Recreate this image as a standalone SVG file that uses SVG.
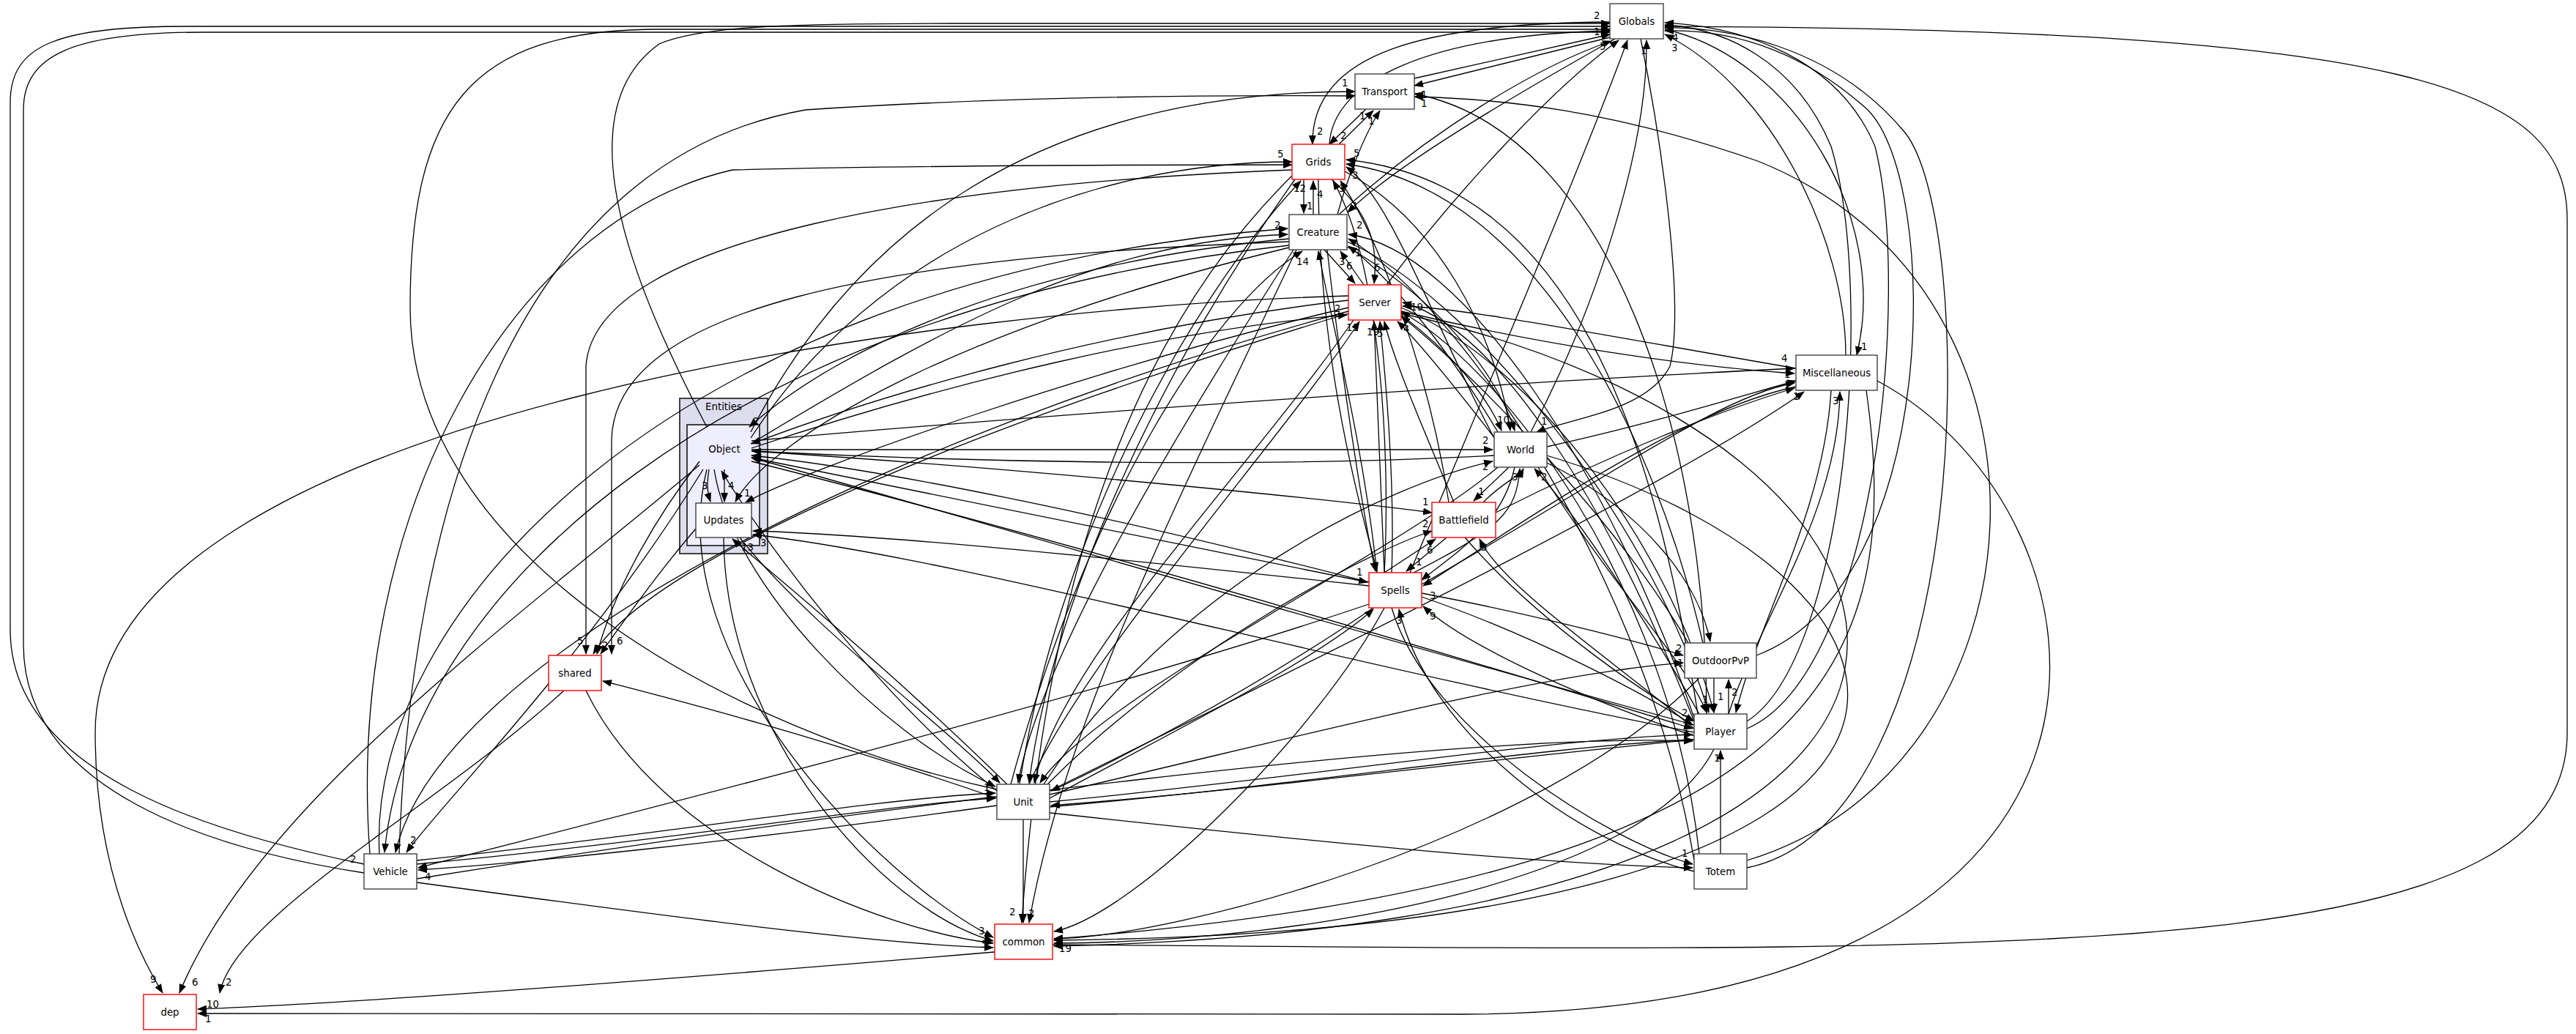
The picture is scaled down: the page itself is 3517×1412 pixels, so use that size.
<svg xmlns="http://www.w3.org/2000/svg" width="3517" height="1412" viewBox="0 0 3517 1412">
<defs>
<marker id="ah" markerWidth="13" markerHeight="10" refX="12" refY="5" orient="auto" markerUnits="userSpaceOnUse"><path d="M0,0 L13,5 L0,10 z" fill="#000"/></marker>
<style>
.nd rect{fill:#fff;stroke:#404040;stroke-width:1.4}
.rd rect{fill:#fff;stroke:#ff0000;stroke-width:1.4}
text{font-family:"DejaVu Sans","Liberation Sans",sans-serif;font-size:13.3px;fill:#000}
.c{text-anchor:middle}
#edges path{fill:none;stroke:#000;stroke-width:1.3;marker-end:url(#ah)}
</style>
</defs>
<rect width="3517" height="1412" fill="#fff"/>
<g id="cluster-Entities">
<rect x="928" y="544" width="120" height="212" fill="#ddddee" stroke="#404040" stroke-width="2"/>
<text class="c" x="988" y="560">Entities</text>
<rect x="938" y="580" width="99" height="165" fill="#eeeeff" stroke="#404040" stroke-width="2"/>
</g>
<g id="edges">
<path d="M497,1180 C300,1140 14,1060 14,860 L14,140 C14,60 80,36 260,36 L2198,36"/>
<path d="M497,1192 C290,1160 32,1080 32,880 L32,150 C32,75 100,44 280,44 L2198,44"/>
<path d="M1361,1078 C1000,1000 560,760 560,420 C560,150 640,40 900,40 L2198,40"/>
<path d="M965,583 C880,420 760,160 900,60 C960,34 1100,32 1300,32 L2198,32"/>
<path d="M1828,293 C1950,180 2100,90 2200,56"/>
<path d="M1893,389 C1990,260 2120,120 2210,55"/>
<path d="M1925,782 C2000,600 2150,250 2222,55"/>
<path d="M1931,107 L2198,47"/>
<path d="M1815,197 C1820,110 1950,48 2198,42"/>
<path d="M2090,590 C2180,420 2250,200 2248,55"/>
<path d="M2520,485 C2520,330 2420,120 2273,47"/>
<path d="M2385,985 C2520,900 2560,400 2500,200 C2450,80 2350,38 2273,34"/>
<path d="M2385,995 C2560,920 2610,400 2560,200 C2510,80 2380,36 2273,31"/>
<path d="M2385,1185 C2700,1120 2700,300 2600,180 C2500,60 2350,36 2273,38"/>
<path d="M1437,1290 C2800,1300 3505,1320 3505,1000 L3505,300 C3505,120 3300,40 2273,36"/>
<path d="M2398,895 C2650,800 2650,250 2550,150 C2450,60 2350,40 2273,42"/>
<path d="M2240,53 C2270,200 2300,420 2280,500 C2250,560 2150,570 2098,590"/>
<path d="M2198,51 L1931,117"/>
<path d="M2198,30 C1950,32 1790,70 1792,197"/>
<path d="M2205,53 C2050,140 1900,230 1840,290"/>
<path d="M2273,40 C2450,80 2580,300 2535,485"/>
<path d="M1865,149 L1815,197"/>
<path d="M1828,197 L1875,151"/>
<path d="M1826,293 C1840,240 1865,180 1884,151"/>
<path d="M1025,590 C1200,250 1500,125 1850,125"/>
<path d="M545,1166 C560,700 700,220 1100,150 C1400,130 1700,130 1850,131"/>
<path d="M2330,975 C2330,600 2200,180 1931,128"/>
<path d="M2385,1175 C2800,1050 2850,400 2400,220 C2200,150 2050,135 1931,132"/>
<path d="M1793,293 L1793,247"/>
<path d="M1780,245 L1780,291"/>
<path d="M1025,598 C1200,330 1500,221 1764,221"/>
<path d="M1392,1071 C1450,700 1650,380 1776,247"/>
<path d="M1768,245 C1600,480 1440,800 1405,1069"/>
<path d="M505,1166 C470,700 700,300 1000,232 C1300,225 1600,225 1764,225"/>
<path d="M1764,232 C1300,250 812,320 800,500 L800,893"/>
<path d="M2040,598 C1960,450 1900,270 1838,228"/>
<path d="M1836,234 C1960,300 2040,450 2062,588"/>
<path d="M2318,975 C2260,600 2150,250 1838,218"/>
<path d="M1978,686 C1950,500 1880,320 1830,247"/>
<path d="M2325,878 C2260,600 2100,260 1838,224"/>
<path d="M1764,240 C1500,500 1420,900 1395,1260"/>
<path d="M1800,245 C1800,500 1860,700 1880,780"/>
<path d="M1890,782 C1900,600 1880,350 1820,247"/>
<path d="M1808,341 L1850,387"/>
<path d="M1862,389 L1830,343"/>
<path d="M1818,245 C1880,300 1880,350 1876,387"/>
<path d="M1025,606 C1300,440 1500,330 1758,320"/>
<path d="M1760,326 C1400,360 1150,470 1023,583"/>
<path d="M518,1166 C500,850 900,380 1758,312"/>
<path d="M1760,335 C1000,420 560,800 525,1164"/>
<path d="M1380,1071 C1480,700 1650,420 1778,343"/>
<path d="M1766,341 C1600,600 1420,900 1390,1069"/>
<path d="M2313,980 C2200,650 2000,340 1841,320"/>
<path d="M1839,330 C2000,400 2250,700 2333,973"/>
<path d="M2045,590 C1980,480 1900,380 1841,336"/>
<path d="M1839,337 C1950,400 2040,500 2068,588"/>
<path d="M1880,782 C1860,600 1820,450 1800,343"/>
<path d="M1812,341 C1830,500 1860,700 1878,780"/>
<path d="M2313,1175 C2250,800 2000,420 1841,326"/>
<path d="M1770,341 C1600,700 1450,1000 1405,1260"/>
<path d="M1760,338 C1300,450 1050,600 1004,685"/>
<path d="M1760,330 C1200,350 840,420 835,600 L835,893"/>
<path d="M1841,404 C1300,420 130,560 130,1000 C130,1200 200,1320 222,1356"/>
<path d="M1841,410 C1500,450 1200,540 1026,606"/>
<path d="M1026,612 C1300,520 1600,450 1839,430"/>
<path d="M1841,420 C1500,500 1100,640 1018,686"/>
<path d="M1841,428 C1400,560 900,750 810,893"/>
<path d="M1405,1071 C1480,900 1750,600 1856,439"/>
<path d="M1848,437 C1700,650 1450,900 1412,1069"/>
<path d="M1890,782 L1876,439"/>
<path d="M1900,782 C1905,650 1890,500 1884,439"/>
<path d="M2042,600 C1980,520 1930,460 1908,439"/>
<path d="M1913,430 C1980,480 2030,540 2050,588"/>
<path d="M2313,985 C2200,700 2050,450 1915,413"/>
<path d="M1913,420 C2100,500 2280,750 2340,973"/>
<path d="M2452,503 C2200,460 2000,420 1915,418"/>
<path d="M1913,425 C2100,470 2300,500 2450,510"/>
<path d="M1985,686 C1950,600 1905,500 1890,439"/>
<path d="M2305,878 C2200,700 2000,500 1913,432"/>
<path d="M2320,1166 C2280,800 2050,500 1913,426"/>
<path d="M1913,428 C2700,600 2900,1260 1439,1292"/>
<path d="M1841,425 C1200,600 600,900 540,1164"/>
<path d="M1026,614 L2038,614"/>
<path d="M2040,622 C1700,640 1300,630 1027,616"/>
<path d="M1425,1071 C1600,800 1900,660 2038,630"/>
<path d="M2045,638 C1900,760 1500,950 1420,1069"/>
<path d="M2060,638 L2012,684"/>
<path d="M2025,686 C2050,660 2075,650 2080,640"/>
<path d="M1930,782 C2050,720 2070,700 2075,640"/>
<path d="M2068,638 C2050,720 1980,760 1941,792"/>
<path d="M2100,638 C2200,800 2300,900 2330,973"/>
<path d="M2320,975 C2250,850 2150,700 2095,640"/>
<path d="M2112,632 C2250,700 2320,800 2335,876"/>
<path d="M2112,622 C2700,800 2800,1270 1439,1284"/>
<path d="M2112,610 C2250,580 2380,540 2452,520"/>
<path d="M1026,602 C1500,560 2100,520 2450,503"/>
<path d="M1941,798 C2200,650 2350,540 2450,523"/>
<path d="M2452,528 C2300,560 2100,700 1943,800"/>
<path d="M2360,975 C2400,850 2510,700 2512,535"/>
<path d="M2500,533 C2490,700 2400,850 2370,973"/>
<path d="M1433,1080 C1900,850 2300,650 2463,535"/>
<path d="M2548,533 C2600,900 2500,1200 1439,1282"/>
<path d="M2563,520 C2900,700 3000,1380 2000,1385 L270,1384"/>
<path d="M2042,700 C2200,620 2350,560 2450,530"/>
<path d="M1890,782 L1960,736"/>
<path d="M1975,734 L1920,780"/>
<path d="M1430,1071 C1600,900 1850,760 1955,725"/>
<path d="M1026,616 C1400,640 1800,680 1955,700"/>
<path d="M2000,734 C2100,850 2250,950 2313,985"/>
<path d="M2313,995 C2200,900 2050,800 2020,736"/>
<path d="M1941,815 C2100,870 2250,950 2311,990"/>
<path d="M2313,1005 C2150,950 2000,880 1943,828"/>
<path d="M1941,810 C2100,840 2250,880 2298,895"/>
<path d="M1875,830 C1700,950 1500,1050 1435,1080"/>
<path d="M1433,1090 C1600,1000 1800,900 1875,832"/>
<path d="M1890,830 C1800,1000 1550,1250 1439,1272"/>
<path d="M1869,825 C1500,950 900,1100 571,1185"/>
<path d="M1869,800 C1500,760 1200,730 1028,725"/>
<path d="M1869,795 C1500,700 1200,640 1026,622"/>
<path d="M1026,625 C1400,700 1700,760 1867,795"/>
<path d="M1900,830 C1950,1000 2200,1150 2311,1180"/>
<path d="M2313,1190 C2150,1150 1950,1000 1910,832"/>
<path d="M2340,926 L2340,973"/>
<path d="M2360,975 L2360,928"/>
<path d="M1433,1085 C1800,1000 2100,920 2298,905"/>
<path d="M2320,926 C2100,1150 1600,1280 1439,1282"/>
<path d="M1433,1095 C1800,1060 2100,1010 2311,1003"/>
<path d="M2313,1010 C2000,1040 1700,1080 1435,1100"/>
<path d="M1433,1102 C1800,1070 2100,1020 2311,1010"/>
<path d="M2340,1023 C2250,1200 1800,1286 1439,1288"/>
<path d="M2349,1166 L2349,1025"/>
<path d="M2313,1000 C1800,900 1300,760 1028,730"/>
<path d="M2313,990 C1800,850 1300,700 1026,625"/>
<path d="M1026,630 C1500,750 2000,900 2311,995"/>
<path d="M569,1200 C1200,1100 2000,1000 2311,1012"/>
<path d="M1397,1119 L1397,1260"/>
<path d="M1361,1100 C1000,1150 700,1180 571,1188"/>
<path d="M569,1180 C900,1150 1200,1100 1359,1090"/>
<path d="M569,1175 C900,1140 1200,1090 1359,1083"/>
<path d="M1361,1080 C1200,950 1050,750 985,643"/>
<path d="M975,641 C1000,800 1200,1000 1359,1074"/>
<path d="M1375,1071 C1200,900 1050,780 1000,736"/>
<path d="M1010,734 C1100,850 1300,1000 1365,1069"/>
<path d="M1433,1110 C1800,1150 2100,1180 2311,1185"/>
<path d="M1361,1090 C1100,1000 900,950 823,930"/>
<path d="M989,641 L989,685"/>
<path d="M968,641 C965,660 965,670 970,685"/>
<path d="M955,630 C900,700 840,800 815,893"/>
<path d="M955,635 C700,850 350,1100 245,1356"/>
<path d="M960,641 C800,900 600,1100 555,1164"/>
<path d="M965,641 C900,900 1200,1200 1356,1280"/>
<path d="M988,734 C990,1000 1200,1240 1356,1285"/>
<path d="M950,722 C900,780 850,850 820,893"/>
<path d="M770,943 C600,1100 320,1250 300,1356"/>
<path d="M800,943 C900,1150 1200,1270 1356,1288"/>
<path d="M569,1205 C900,1250 1200,1290 1356,1294"/>
<path d="M1358,1300 C1000,1330 500,1370 270,1378"/>
</g>
<g id="edge-labels">
<text x="2176" y="26">2</text><text x="2176" y="48">1</text><text x="2184" y="68">5</text>
<text x="2283" y="56">4</text><text x="2282" y="70">3</text><text x="2240" y="74">1</text>
<text x="2104" y="580">1</text><text x="1940" y="134">1</text><text x="1798" y="184">2</text>
<text x="1846" y="286">1</text><text x="2541" y="478">1</text><text x="1830" y="190">2</text>
<text x="1856" y="163">1</text><text x="1868" y="170">1</text><text x="1832" y="118">1</text>
<text x="1940" y="146">1</text><text x="1798" y="270">4</text><text x="1784" y="286">1</text>
<text x="1744" y="215">5</text><text x="1766" y="262">12</text><text x="1412" y="1060">1</text>
<text x="788" y="880">5</text><text x="1846" y="244">3</text><text x="2044" y="578">10</text>
<text x="1848" y="214">5</text><text x="1828" y="262">3</text><text x="1378" y="1250">2</text>
<text x="1838" y="368">6</text><text x="1828" y="362">3</text><text x="1876" y="370">6</text>
<text x="1740" y="312">2</text><text x="1028" y="580">2</text><text x="1770" y="362">14</text>
<text x="1852" y="312">2</text><text x="2324" y="960">1</text><text x="1850" y="350">1</text>
<text x="1016" y="678">1</text><text x="842" y="880">6</text><text x="205" y="1342">9</text>
<text x="1822" y="426">2</text><text x="1838" y="452">11</text><text x="1866" y="458">19</text>
<text x="1880" y="460">5</text><text x="1926" y="424">19</text><text x="1916" y="454">4</text>
<text x="2024" y="606">2</text><text x="1034" y="630">1</text><text x="2024" y="642">2</text>
<text x="2018" y="676">1</text><text x="2064" y="656">3</text><text x="2104" y="656">2</text>
<text x="2432" y="494">4</text><text x="2436" y="516">1</text><text x="1952" y="818">3</text>
<text x="2502" y="552">3</text><text x="2448" y="546">1</text><text x="280" y="1396">1</text>
<text x="1948" y="756">6</text><text x="1933" y="772">1</text><text x="1942" y="720">2</text>
<text x="1942" y="690">1</text><text x="2022" y="752">3</text><text x="2296" y="978">2</text>
<text x="1952" y="846">9</text><text x="2288" y="890">2</text><text x="2290" y="910">1</text>
<text x="1852" y="786">1</text><text x="2296" y="1170">1</text><text x="1906" y="852">3</text>
<text x="2345" y="956">1</text><text x="2364" y="950">2</text><text x="2298" y="1000">1</text>
<text x="2340" y="1040">1</text><text x="1038" y="746">3</text><text x="1404" y="1252">2</text>
<text x="580" y="1202">4</text><text x="1343" y="1080">1</text><text x="1012" y="752">13</text>
<text x="994" y="668">4</text><text x="958" y="668">3</text><text x="822" y="886">2</text>
<text x="262" y="1346">6</text><text x="560" y="1152">2</text><text x="1336" y="1276">3</text>
<text x="1340" y="1294">5</text><text x="308" y="1346">2</text><text x="282" y="1376">10</text>
<text x="478" y="1178">2</text><text x="1446" y="1300">19</text>
</g>
<g id="node-Globals" class="nd"><rect x="2198" y="5" width="73" height="48"/><text class="c" x="2234.5" y="34">Globals</text></g>
<g id="node-Transport" class="nd"><rect x="1850" y="101" width="81" height="48"/><text class="c" x="1890.5" y="130">Transport</text></g>
<g id="node-Grids" class="rd"><rect x="1764" y="197" width="72" height="48"/><text class="c" x="1800" y="226">Grids</text></g>
<g id="node-Creature" class="nd"><rect x="1760" y="293" width="79" height="48"/><text class="c" x="1799.5" y="322">Creature</text></g>
<g id="node-Server" class="rd"><rect x="1841" y="389" width="72" height="48"/><text class="c" x="1877" y="418">Server</text></g>
<g id="node-Miscellaneous" class="nd"><rect x="2452" y="485" width="111" height="48"/><text class="c" x="2507.5" y="514">Miscellaneous</text></g>
<g id="node-World" class="nd"><rect x="2040" y="590" width="72" height="48"/><text class="c" x="2076" y="619">World</text></g>
<g id="node-Battlefield" class="rd"><rect x="1955" y="686" width="87" height="48"/><text class="c" x="1998.5" y="715">Battlefield</text></g>
<g id="node-Spells" class="rd"><rect x="1869" y="782" width="72" height="48"/><text class="c" x="1905" y="811">Spells</text></g>
<g id="node-OutdoorPvP" class="nd"><rect x="2300" y="878" width="98" height="48"/><text class="c" x="2349" y="907">OutdoorPvP</text></g>
<g id="node-Player" class="nd"><rect x="2313" y="975" width="72" height="48"/><text class="c" x="2349" y="1004">Player</text></g>
<g id="node-Totem" class="nd"><rect x="2313" y="1166" width="72" height="48"/><text class="c" x="2349" y="1195">Totem</text></g>
<g id="node-Unit" class="nd"><rect x="1361" y="1071" width="72" height="48"/><text class="c" x="1397" y="1100">Unit</text></g>
<g id="node-common" class="rd"><rect x="1358" y="1262" width="79" height="48"/><text class="c" x="1397.5" y="1291">common</text></g>
<g id="node-Vehicle" class="nd"><rect x="497" y="1166" width="72" height="48"/><text class="c" x="533" y="1195">Vehicle</text></g>
<g id="node-dep" class="rd"><rect x="196" y="1358" width="72" height="48"/><text class="c" x="232" y="1387">dep</text></g>
<g id="node-shared" class="rd"><rect x="749" y="895" width="72" height="48"/><text class="c" x="785" y="924">shared</text></g>
<g id="node-Object"><text class="c" x="989" y="618">Object</text></g>
<g id="node-Updates" class="nd"><rect x="950" y="687" width="76" height="47"/><text class="c" x="988" y="715">Updates</text></g>
</svg>
